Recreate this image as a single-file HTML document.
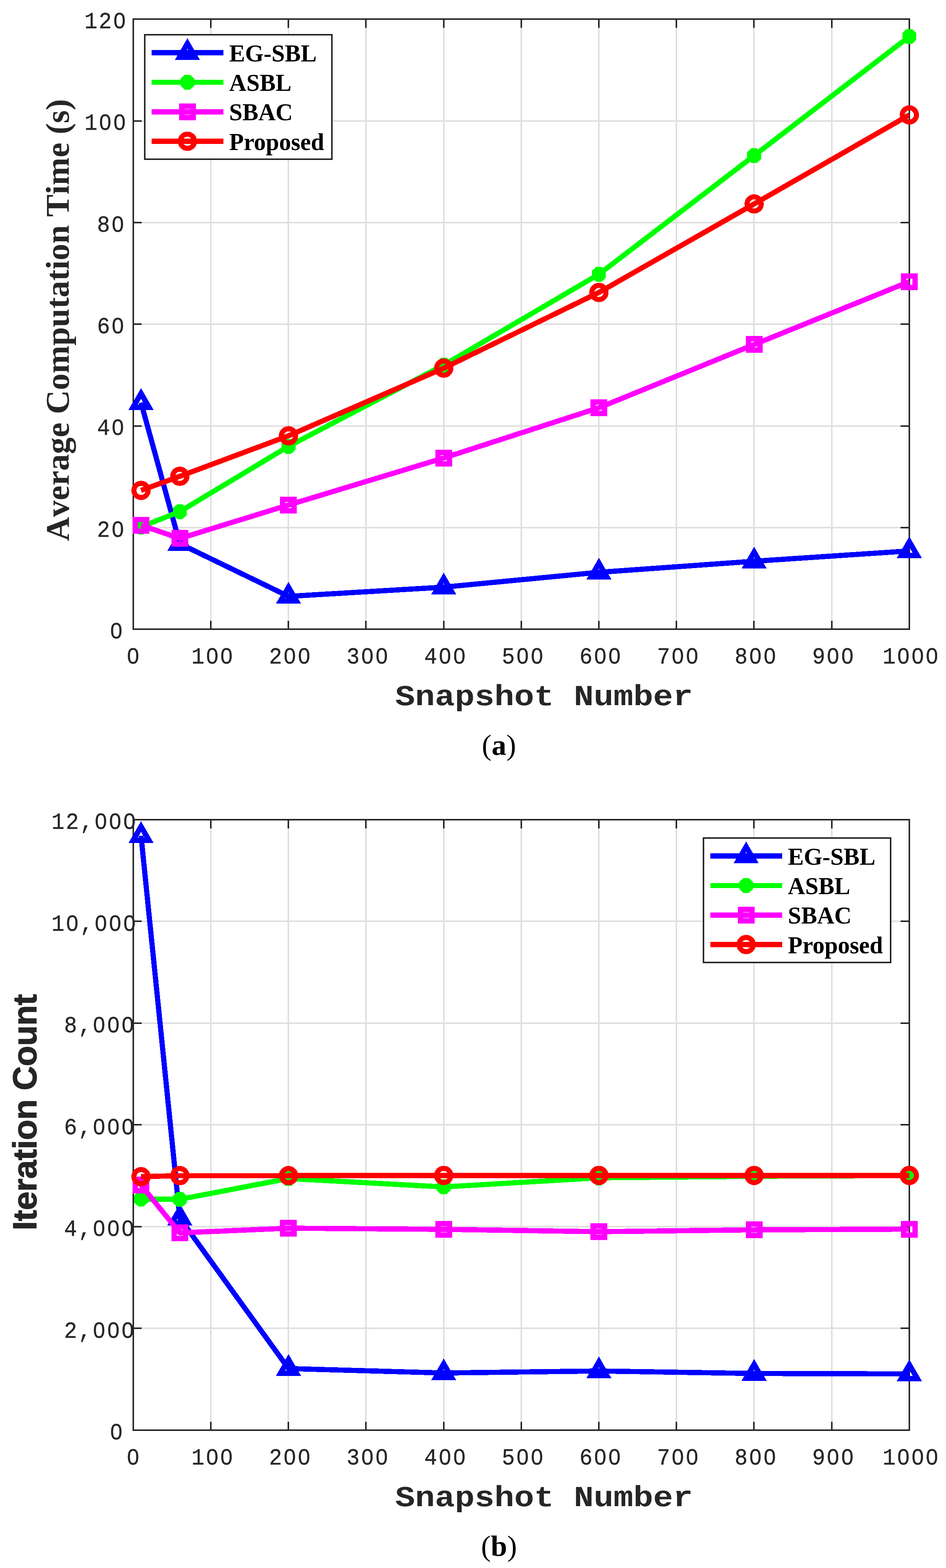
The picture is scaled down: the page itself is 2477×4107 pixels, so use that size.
<!DOCTYPE html>
<html lang="en">
<head>
<meta charset="utf-8">
<title>Average computation time and iteration count versus snapshot number</title>
<style>
html,body{margin:0;padding:0;background:#fff}
body{width:2477px;height:4107px;overflow:hidden}
svg{display:block}
.zc{fill:#fff;stroke:none}
.tk{font-family:"Liberation Mono",monospace;font-size:61px;letter-spacing:3.663px;fill:#262626;stroke:#262626;stroke-width:0.5px}
.xl{font-family:"Liberation Mono",monospace;font-weight:bold;font-size:86.6px;fill:#262626}
.yla{font-family:"Liberation Serif",serif;font-weight:bold;font-size:87.4px;fill:#262626;font-kerning:none}
.ylb{font-family:"Liberation Sans",sans-serif;font-weight:bold;font-size:88px;fill:#262626;stroke:#262626;stroke-width:1.6px;letter-spacing:-0.5px;font-kerning:none}
.lg{font-family:"Liberation Serif",serif;font-weight:bold;font-size:62.5px;fill:#000}
.cap{font-family:"Liberation Serif",serif;font-size:77px;fill:#000}
</style>
</head>
<body>
<svg width="2477" height="4107" viewBox="0 0 2477 4107">
<rect width="2477" height="4107" fill="#fff"/>
<g id="chart-a">
<g shape-rendering="crispEdges" fill="none" stroke-width="4">
<path d="M552 50V1648M755 50V1648M958 50V1648M1162 50V1648M1365 50V1648M1568 50V1648M1771 50V1648M1974 50V1648M2178 50V1648M349 1382H2381M349 1116H2381M349 849H2381M349 583H2381M349 317H2381" stroke="#dfdfdf"/>
<path d="M552 1648V1626M552 50V73M755 1648V1626M755 50V73M958 1648V1626M958 50V73M1162 1648V1626M1162 50V73M1365 1648V1626M1365 50V73M1568 1648V1626M1568 50V73M1771 1648V1626M1771 50V73M1974 1648V1626M1974 50V73M2178 1648V1626M2178 50V73M349 1382H371M2381 1382H2358M349 1116H371M2381 1116H2358M349 849H371M2381 849H2358M349 583H371M2381 583H2358M349 317H371M2381 317H2358" stroke="#262626"/>
<rect x="349" y="50" width="2032" height="1598" stroke="#262626"/>
</g>
<g class="tk">
<text transform="translate(331.5 1737.6) scale(0.93 1)">0</text><ellipse class="zc" cx="348.5" cy="1717.5" rx="6.4" ry="8"/>
<text transform="translate(501.2 1737.6) scale(0.93 1)">100</text><ellipse class="zc" cx="555.7" cy="1717.5" rx="6.4" ry="8"/><ellipse class="zc" cx="593.2" cy="1717.5" rx="6.4" ry="8"/>
<text transform="translate(704.4 1737.6) scale(0.93 1)">200</text><ellipse class="zc" cx="758.9" cy="1717.5" rx="6.4" ry="8"/><ellipse class="zc" cx="796.4" cy="1717.5" rx="6.4" ry="8"/>
<text transform="translate(907.6 1737.6) scale(0.93 1)">300</text><ellipse class="zc" cx="962.1" cy="1717.5" rx="6.4" ry="8"/><ellipse class="zc" cx="999.6" cy="1717.5" rx="6.4" ry="8"/>
<text transform="translate(1110.8 1737.6) scale(0.93 1)">400</text><ellipse class="zc" cx="1165.3" cy="1717.5" rx="6.4" ry="8"/><ellipse class="zc" cx="1202.8" cy="1717.5" rx="6.4" ry="8"/>
<text transform="translate(1314 1737.6) scale(0.93 1)">500</text><ellipse class="zc" cx="1368.5" cy="1717.5" rx="6.4" ry="8"/><ellipse class="zc" cx="1406" cy="1717.5" rx="6.4" ry="8"/>
<text transform="translate(1517.2 1737.6) scale(0.93 1)">600</text><ellipse class="zc" cx="1571.7" cy="1717.5" rx="6.4" ry="8"/><ellipse class="zc" cx="1609.2" cy="1717.5" rx="6.4" ry="8"/>
<text transform="translate(1720.4 1737.6) scale(0.93 1)">700</text><ellipse class="zc" cx="1774.9" cy="1717.5" rx="6.4" ry="8"/><ellipse class="zc" cx="1812.4" cy="1717.5" rx="6.4" ry="8"/>
<text transform="translate(1923.6 1737.6) scale(0.93 1)">800</text><ellipse class="zc" cx="1978.1" cy="1717.5" rx="6.4" ry="8"/><ellipse class="zc" cx="2015.5" cy="1717.5" rx="6.4" ry="8"/>
<text transform="translate(2126.8 1737.6) scale(0.93 1)">900</text><ellipse class="zc" cx="2181.3" cy="1717.5" rx="6.4" ry="8"/><ellipse class="zc" cx="2218.8" cy="1717.5" rx="6.4" ry="8"/>
<text transform="translate(2311 1737.6) scale(0.93 1)">1000</text><ellipse class="zc" cx="2365.5" cy="1717.5" rx="6.4" ry="8"/><ellipse class="zc" cx="2402.9" cy="1717.5" rx="6.4" ry="8"/><ellipse class="zc" cx="2440.4" cy="1717.5" rx="6.4" ry="8"/>
</g>
<g class="tk">
<text transform="translate(287.6 1672) scale(0.93 1)">0</text><ellipse class="zc" cx="304.6" cy="1651.9" rx="6.4" ry="8"/>
<text transform="translate(254.1 1405.7) scale(0.93 1)">20</text><ellipse class="zc" cx="308.6" cy="1385.6" rx="6.4" ry="8"/>
<text transform="translate(254.1 1139.3) scale(0.93 1)">40</text><ellipse class="zc" cx="308.6" cy="1119.2" rx="6.4" ry="8"/>
<text transform="translate(254.1 873) scale(0.93 1)">60</text><ellipse class="zc" cx="308.6" cy="852.9" rx="6.4" ry="8"/>
<text transform="translate(254.1 606.7) scale(0.93 1)">80</text><ellipse class="zc" cx="308.6" cy="586.6" rx="6.4" ry="8"/>
<text transform="translate(221 340.3) scale(0.93 1)">100</text><ellipse class="zc" cx="275.4" cy="320.2" rx="6.4" ry="8"/><ellipse class="zc" cx="312.9" cy="320.2" rx="6.4" ry="8"/>
<text transform="translate(221 74) scale(0.93 1)">120</text><ellipse class="zc" cx="312.9" cy="53.9" rx="6.4" ry="8"/>
</g>
<text class="xl" transform="translate(1424.5 1846.5) scale(1 0.87)" text-anchor="middle">Snapshot Number</text>
<text class="yla" transform="translate(179.9 838.4) rotate(-90)" text-anchor="middle">Average Computation Time (s)</text>
<clipPath id="clipa"><rect x="349" y="50" width="2032" height="1598"/></clipPath>
<g shape-rendering="crispEdges">
<polyline clip-path="url(#clipa)" points="369.3,1054.5 470.9,1424.2 755.4,1562 1161.8,1537.9 1568.2,1499 1974.6,1470 2381,1443" fill="none" stroke="#0000ff" stroke-width="13.6" stroke-linejoin="round"/>
<path d="M369.3 1030.5L390.1 1066.5L348.5 1066.5Z" fill="none" stroke="#0000ff" stroke-width="14" stroke-linejoin="miter"/>
<path d="M470.9 1400.2L491.7 1436.2L450.1 1436.2Z" fill="none" stroke="#0000ff" stroke-width="14" stroke-linejoin="miter"/>
<path d="M755.4 1538L776.2 1574L734.6 1574Z" fill="none" stroke="#0000ff" stroke-width="14" stroke-linejoin="miter"/>
<path d="M1161.8 1513.9L1182.6 1549.9L1141 1549.9Z" fill="none" stroke="#0000ff" stroke-width="14" stroke-linejoin="miter"/>
<path d="M1568.2 1475L1589 1511L1547.4 1511Z" fill="none" stroke="#0000ff" stroke-width="14" stroke-linejoin="miter"/>
<path d="M1974.6 1446L1995.4 1482L1953.8 1482Z" fill="none" stroke="#0000ff" stroke-width="14" stroke-linejoin="miter"/>
<path d="M2381 1419L2401.8 1455L2360.2 1455Z" fill="none" stroke="#0000ff" stroke-width="14" stroke-linejoin="miter"/>
<polyline clip-path="url(#clipa)" points="369.3,1380 470.9,1340 755.4,1169 1161.8,956.2 1568.2,718.3 1974.6,407.6 2381,95.6" fill="none" stroke="#00ff00" stroke-width="13.6" stroke-linejoin="round"/>
<polygon points="362.3,1360.5 376.3,1360.5 387.5,1370.8 387.5,1389.2 376.3,1399.5 362.3,1399.5 351.1,1389.2 351.1,1370.8" fill="#00ff00"/>
<polygon points="463.9,1320.5 477.9,1320.5 489.1,1330.8 489.1,1349.2 477.9,1359.5 463.9,1359.5 452.7,1349.2 452.7,1330.8" fill="#00ff00"/>
<polygon points="748.4,1149.5 762.4,1149.5 773.6,1159.8 773.6,1178.2 762.4,1188.5 748.4,1188.5 737.2,1178.2 737.2,1159.8" fill="#00ff00"/>
<polygon points="1154.8,936.7 1168.8,936.7 1180,947 1180,965.4 1168.8,975.7 1154.8,975.7 1143.6,965.4 1143.6,947" fill="#00ff00"/>
<polygon points="1561.2,698.8 1575.2,698.8 1586.4,709.1 1586.4,727.5 1575.2,737.8 1561.2,737.8 1550,727.5 1550,709.1" fill="#00ff00"/>
<polygon points="1967.6,388.1 1981.6,388.1 1992.8,398.4 1992.8,416.8 1981.6,427.1 1967.6,427.1 1956.4,416.8 1956.4,398.4" fill="#00ff00"/>
<polygon points="2374,76.1 2388,76.1 2399.2,86.4 2399.2,104.8 2388,115.1 2374,115.1 2362.8,104.8 2362.8,86.4" fill="#00ff00"/>
<polyline clip-path="url(#clipa)" points="369.3,1375.5 470.9,1410.4 755.4,1322.7 1161.8,1199.6 1568.2,1068 1974.6,902.4 2381,737.7" fill="none" stroke="#ff00ff" stroke-width="13.6" stroke-linejoin="round"/>
<rect x="354.3" y="1360.5" width="30" height="30" fill="none" stroke="#ff00ff" stroke-width="14"/>
<rect x="455.9" y="1395.4" width="30" height="30" fill="none" stroke="#ff00ff" stroke-width="14"/>
<rect x="740.4" y="1307.7" width="30" height="30" fill="none" stroke="#ff00ff" stroke-width="14"/>
<rect x="1146.8" y="1184.6" width="30" height="30" fill="none" stroke="#ff00ff" stroke-width="14"/>
<rect x="1553.2" y="1053" width="30" height="30" fill="none" stroke="#ff00ff" stroke-width="14"/>
<rect x="1959.6" y="887.4" width="30" height="30" fill="none" stroke="#ff00ff" stroke-width="14"/>
<rect x="2366" y="722.7" width="30" height="30" fill="none" stroke="#ff00ff" stroke-width="14"/>
<polyline clip-path="url(#clipa)" points="369.3,1284.5 470.9,1247.5 755.4,1141.5 1161.8,964.3 1568.2,766 1974.6,534.2 2381,301" fill="none" stroke="#ff0000" stroke-width="13.6" stroke-linejoin="round"/>
<circle cx="369.3" cy="1284.5" r="18.6" fill="none" stroke="#ff0000" stroke-width="13.3"/>
<circle cx="470.9" cy="1247.5" r="18.6" fill="none" stroke="#ff0000" stroke-width="13.3"/>
<circle cx="755.4" cy="1141.5" r="18.6" fill="none" stroke="#ff0000" stroke-width="13.3"/>
<circle cx="1161.8" cy="964.3" r="18.6" fill="none" stroke="#ff0000" stroke-width="13.3"/>
<circle cx="1568.2" cy="766" r="18.6" fill="none" stroke="#ff0000" stroke-width="13.3"/>
<circle cx="1974.6" cy="534.2" r="18.6" fill="none" stroke="#ff0000" stroke-width="13.3"/>
<circle cx="2381" cy="301" r="18.6" fill="none" stroke="#ff0000" stroke-width="13.3"/>
</g>
<g transform="translate(379 91)">
<rect x="0" y="0" width="490" height="326" fill="#fff" stroke="#262626" stroke-width="4" shape-rendering="crispEdges"/>
<g shape-rendering="crispEdges"><path d="M17.7 47H206" stroke="#0000ff" stroke-width="13.6" fill="none"/><path d="M111.7 23L132.5 59L90.9 59Z" fill="none" stroke="#0000ff" stroke-width="14" stroke-linejoin="miter"/></g>
<text class="lg" x="221" y="69.5">EG-SBL</text>
<g shape-rendering="crispEdges"><path d="M17.7 124.3H206" stroke="#00ff00" stroke-width="13.6" fill="none"/><polygon points="104.7,104.8 118.7,104.8 129.9,115.1 129.9,133.5 118.7,143.8 104.7,143.8 93.5,133.5 93.5,115.1" fill="#00ff00"/></g>
<text class="lg" x="221" y="146.8">ASBL</text>
<g shape-rendering="crispEdges"><path d="M17.7 201.7H206" stroke="#ff00ff" stroke-width="13.6" fill="none"/><rect x="96.7" y="186.7" width="30" height="30" fill="none" stroke="#ff00ff" stroke-width="14"/></g>
<text class="lg" x="221" y="224.2">SBAC</text>
<g shape-rendering="crispEdges"><path d="M17.7 279H206" stroke="#ff0000" stroke-width="13.6" fill="none"/><circle cx="111.7" cy="279" r="18.6" fill="none" stroke="#ff0000" stroke-width="13.3"/></g>
<text class="lg" x="221" y="301.5">Proposed</text>
</g>
<text class="cap" x="1306.5" y="1977" text-anchor="middle">(<tspan font-weight="bold">a</tspan>)</text>
</g>
<g id="chart-b">
<g shape-rendering="crispEdges" fill="none" stroke-width="4">
<path d="M552 2147V3746M755 2147V3746M958 2147V3746M1162 2147V3746M1365 2147V3746M1568 2147V3746M1771 2147V3746M1974 2147V3746M2178 2147V3746M349 3479H2381M349 3213H2381M349 2946H2381M349 2680H2381M349 2413H2381" stroke="#dfdfdf"/>
<path d="M552 3746V3724M552 2147V2170M755 3746V3724M755 2147V2170M958 3746V3724M958 2147V2170M1162 3746V3724M1162 2147V2170M1365 3746V3724M1365 2147V2170M1568 3746V3724M1568 2147V2170M1771 3746V3724M1771 2147V2170M1974 3746V3724M1974 2147V2170M2178 3746V3724M2178 2147V2170M349 3479H371M2381 3479H2358M349 3213H371M2381 3213H2358M349 2946H371M2381 2946H2358M349 2680H371M2381 2680H2358M349 2413H371M2381 2413H2358" stroke="#262626"/>
<rect x="349" y="2147" width="2032" height="1599" stroke="#262626"/>
</g>
<g class="tk">
<text transform="translate(331.5 3835.6) scale(0.93 1)">0</text><ellipse class="zc" cx="348.5" cy="3815.5" rx="6.4" ry="8"/>
<text transform="translate(501.2 3835.6) scale(0.93 1)">100</text><ellipse class="zc" cx="555.7" cy="3815.5" rx="6.4" ry="8"/><ellipse class="zc" cx="593.2" cy="3815.5" rx="6.4" ry="8"/>
<text transform="translate(704.4 3835.6) scale(0.93 1)">200</text><ellipse class="zc" cx="758.9" cy="3815.5" rx="6.4" ry="8"/><ellipse class="zc" cx="796.4" cy="3815.5" rx="6.4" ry="8"/>
<text transform="translate(907.6 3835.6) scale(0.93 1)">300</text><ellipse class="zc" cx="962.1" cy="3815.5" rx="6.4" ry="8"/><ellipse class="zc" cx="999.6" cy="3815.5" rx="6.4" ry="8"/>
<text transform="translate(1110.8 3835.6) scale(0.93 1)">400</text><ellipse class="zc" cx="1165.3" cy="3815.5" rx="6.4" ry="8"/><ellipse class="zc" cx="1202.8" cy="3815.5" rx="6.4" ry="8"/>
<text transform="translate(1314 3835.6) scale(0.93 1)">500</text><ellipse class="zc" cx="1368.5" cy="3815.5" rx="6.4" ry="8"/><ellipse class="zc" cx="1406" cy="3815.5" rx="6.4" ry="8"/>
<text transform="translate(1517.2 3835.6) scale(0.93 1)">600</text><ellipse class="zc" cx="1571.7" cy="3815.5" rx="6.4" ry="8"/><ellipse class="zc" cx="1609.2" cy="3815.5" rx="6.4" ry="8"/>
<text transform="translate(1720.4 3835.6) scale(0.93 1)">700</text><ellipse class="zc" cx="1774.9" cy="3815.5" rx="6.4" ry="8"/><ellipse class="zc" cx="1812.4" cy="3815.5" rx="6.4" ry="8"/>
<text transform="translate(1923.6 3835.6) scale(0.93 1)">800</text><ellipse class="zc" cx="1978.1" cy="3815.5" rx="6.4" ry="8"/><ellipse class="zc" cx="2015.5" cy="3815.5" rx="6.4" ry="8"/>
<text transform="translate(2126.8 3835.6) scale(0.93 1)">900</text><ellipse class="zc" cx="2181.3" cy="3815.5" rx="6.4" ry="8"/><ellipse class="zc" cx="2218.8" cy="3815.5" rx="6.4" ry="8"/>
<text transform="translate(2311 3835.6) scale(0.93 1)">1000</text><ellipse class="zc" cx="2365.5" cy="3815.5" rx="6.4" ry="8"/><ellipse class="zc" cx="2402.9" cy="3815.5" rx="6.4" ry="8"/><ellipse class="zc" cx="2440.4" cy="3815.5" rx="6.4" ry="8"/>
</g>
<g class="tk">
<text transform="translate(287.6 3770) scale(0.93 1)">0</text><ellipse class="zc" cx="304.6" cy="3749.9" rx="6.4" ry="8"/>
<text transform="translate(167.7 3503.5) scale(0.93 1)">2,000</text><ellipse class="zc" cx="259.6" cy="3483.4" rx="6.4" ry="8"/><ellipse class="zc" cx="297" cy="3483.4" rx="6.4" ry="8"/><ellipse class="zc" cx="334.5" cy="3483.4" rx="6.4" ry="8"/>
<text transform="translate(167.7 3237) scale(0.93 1)">4,000</text><ellipse class="zc" cx="259.6" cy="3216.9" rx="6.4" ry="8"/><ellipse class="zc" cx="297" cy="3216.9" rx="6.4" ry="8"/><ellipse class="zc" cx="334.5" cy="3216.9" rx="6.4" ry="8"/>
<text transform="translate(167.7 2970.5) scale(0.93 1)">6,000</text><ellipse class="zc" cx="259.6" cy="2950.4" rx="6.4" ry="8"/><ellipse class="zc" cx="297" cy="2950.4" rx="6.4" ry="8"/><ellipse class="zc" cx="334.5" cy="2950.4" rx="6.4" ry="8"/>
<text transform="translate(167.7 2704) scale(0.93 1)">8,000</text><ellipse class="zc" cx="259.6" cy="2683.9" rx="6.4" ry="8"/><ellipse class="zc" cx="297" cy="2683.9" rx="6.4" ry="8"/><ellipse class="zc" cx="334.5" cy="2683.9" rx="6.4" ry="8"/>
<text transform="translate(134.8 2437.5) scale(0.93 1)">10,000</text><ellipse class="zc" cx="189.3" cy="2417.4" rx="6.4" ry="8"/><ellipse class="zc" cx="264.2" cy="2417.4" rx="6.4" ry="8"/><ellipse class="zc" cx="301.6" cy="2417.4" rx="6.4" ry="8"/><ellipse class="zc" cx="339.1" cy="2417.4" rx="6.4" ry="8"/>
<text transform="translate(134.8 2171) scale(0.93 1)">12,000</text><ellipse class="zc" cx="264.2" cy="2150.9" rx="6.4" ry="8"/><ellipse class="zc" cx="301.6" cy="2150.9" rx="6.4" ry="8"/><ellipse class="zc" cx="339.1" cy="2150.9" rx="6.4" ry="8"/>
</g>
<text class="xl" transform="translate(1424.5 3944.5) scale(1 0.87)" text-anchor="middle">Snapshot Number</text>
<text class="ylb" transform="translate(94.9 2913.4) rotate(-90)" text-anchor="middle">Iteration Count</text>
<clipPath id="clipb"><rect x="349" y="2147" width="2032" height="1599"/></clipPath>
<g shape-rendering="crispEdges">
<polyline clip-path="url(#clipb)" points="369.3,2189 470.9,3190.8 755.4,3584.6 1161.8,3596.2 1568.2,3591 1974.6,3597.5 2381,3598.6" fill="none" stroke="#0000ff" stroke-width="13.6" stroke-linejoin="round"/>
<path d="M369.3 2165L390.1 2201L348.5 2201Z" fill="none" stroke="#0000ff" stroke-width="14" stroke-linejoin="miter"/>
<path d="M470.9 3166.8L491.7 3202.8L450.1 3202.8Z" fill="none" stroke="#0000ff" stroke-width="14" stroke-linejoin="miter"/>
<path d="M755.4 3560.6L776.2 3596.6L734.6 3596.6Z" fill="none" stroke="#0000ff" stroke-width="14" stroke-linejoin="miter"/>
<path d="M1161.8 3572.2L1182.6 3608.2L1141 3608.2Z" fill="none" stroke="#0000ff" stroke-width="14" stroke-linejoin="miter"/>
<path d="M1568.2 3567L1589 3603L1547.4 3603Z" fill="none" stroke="#0000ff" stroke-width="14" stroke-linejoin="miter"/>
<path d="M1974.6 3573.5L1995.4 3609.5L1953.8 3609.5Z" fill="none" stroke="#0000ff" stroke-width="14" stroke-linejoin="miter"/>
<path d="M2381 3574.6L2401.8 3610.6L2360.2 3610.6Z" fill="none" stroke="#0000ff" stroke-width="14" stroke-linejoin="miter"/>
<polyline clip-path="url(#clipb)" points="369.3,3140.6 470.9,3141.3 755.4,3086.9 1161.8,3108.9 1568.2,3085 1974.6,3081 2381,3079" fill="none" stroke="#00ff00" stroke-width="13.6" stroke-linejoin="round"/>
<polygon points="362.3,3121.1 376.3,3121.1 387.5,3131.4 387.5,3149.8 376.3,3160.1 362.3,3160.1 351.1,3149.8 351.1,3131.4" fill="#00ff00"/>
<polygon points="463.9,3121.8 477.9,3121.8 489.1,3132.1 489.1,3150.5 477.9,3160.8 463.9,3160.8 452.7,3150.5 452.7,3132.1" fill="#00ff00"/>
<polygon points="748.4,3067.4 762.4,3067.4 773.6,3077.7 773.6,3096.1 762.4,3106.4 748.4,3106.4 737.2,3096.1 737.2,3077.7" fill="#00ff00"/>
<polygon points="1154.8,3089.4 1168.8,3089.4 1180,3099.7 1180,3118.1 1168.8,3128.4 1154.8,3128.4 1143.6,3118.1 1143.6,3099.7" fill="#00ff00"/>
<polygon points="1561.2,3065.5 1575.2,3065.5 1586.4,3075.8 1586.4,3094.2 1575.2,3104.5 1561.2,3104.5 1550,3094.2 1550,3075.8" fill="#00ff00"/>
<polygon points="1967.6,3061.5 1981.6,3061.5 1992.8,3071.8 1992.8,3090.2 1981.6,3100.5 1967.6,3100.5 1956.4,3090.2 1956.4,3071.8" fill="#00ff00"/>
<polygon points="2374,3059.5 2388,3059.5 2399.2,3069.8 2399.2,3088.2 2388,3098.5 2374,3098.5 2362.8,3088.2 2362.8,3069.8" fill="#00ff00"/>
<polyline clip-path="url(#clipb)" points="369.3,3104 470.9,3229.2 755.4,3217 1161.8,3220 1568.2,3226.1 1974.6,3221.3 2381,3219.5" fill="none" stroke="#ff00ff" stroke-width="13.6" stroke-linejoin="round"/>
<rect x="354.3" y="3089" width="30" height="30" fill="none" stroke="#ff00ff" stroke-width="14"/>
<rect x="455.9" y="3214.2" width="30" height="30" fill="none" stroke="#ff00ff" stroke-width="14"/>
<rect x="740.4" y="3202" width="30" height="30" fill="none" stroke="#ff00ff" stroke-width="14"/>
<rect x="1146.8" y="3205" width="30" height="30" fill="none" stroke="#ff00ff" stroke-width="14"/>
<rect x="1553.2" y="3211.1" width="30" height="30" fill="none" stroke="#ff00ff" stroke-width="14"/>
<rect x="1959.6" y="3206.3" width="30" height="30" fill="none" stroke="#ff00ff" stroke-width="14"/>
<rect x="2366" y="3204.5" width="30" height="30" fill="none" stroke="#ff00ff" stroke-width="14"/>
<polyline clip-path="url(#clipb)" points="369.3,3082 470.9,3079.3 755.4,3079.3 1161.8,3078.8 1568.2,3078.8 1974.6,3078.8 2381,3078.8" fill="none" stroke="#ff0000" stroke-width="13.6" stroke-linejoin="round"/>
<circle cx="369.3" cy="3082" r="18.6" fill="none" stroke="#ff0000" stroke-width="13.3"/>
<circle cx="470.9" cy="3079.3" r="18.6" fill="none" stroke="#ff0000" stroke-width="13.3"/>
<circle cx="755.4" cy="3079.3" r="18.6" fill="none" stroke="#ff0000" stroke-width="13.3"/>
<circle cx="1161.8" cy="3078.8" r="18.6" fill="none" stroke="#ff0000" stroke-width="13.3"/>
<circle cx="1568.2" cy="3078.8" r="18.6" fill="none" stroke="#ff0000" stroke-width="13.3"/>
<circle cx="1974.6" cy="3078.8" r="18.6" fill="none" stroke="#ff0000" stroke-width="13.3"/>
<circle cx="2381" cy="3078.8" r="18.6" fill="none" stroke="#ff0000" stroke-width="13.3"/>
</g>
<g transform="translate(1842 2195)">
<rect x="0" y="0" width="490" height="326" fill="#fff" stroke="#262626" stroke-width="4" shape-rendering="crispEdges"/>
<g shape-rendering="crispEdges"><path d="M17.7 47H206" stroke="#0000ff" stroke-width="13.6" fill="none"/><path d="M111.7 23L132.5 59L90.9 59Z" fill="none" stroke="#0000ff" stroke-width="14" stroke-linejoin="miter"/></g>
<text class="lg" x="221" y="69.5">EG-SBL</text>
<g shape-rendering="crispEdges"><path d="M17.7 124.3H206" stroke="#00ff00" stroke-width="13.6" fill="none"/><polygon points="104.7,104.8 118.7,104.8 129.9,115.1 129.9,133.5 118.7,143.8 104.7,143.8 93.5,133.5 93.5,115.1" fill="#00ff00"/></g>
<text class="lg" x="221" y="146.8">ASBL</text>
<g shape-rendering="crispEdges"><path d="M17.7 201.7H206" stroke="#ff00ff" stroke-width="13.6" fill="none"/><rect x="96.7" y="186.7" width="30" height="30" fill="none" stroke="#ff00ff" stroke-width="14"/></g>
<text class="lg" x="221" y="224.2">SBAC</text>
<g shape-rendering="crispEdges"><path d="M17.7 279H206" stroke="#ff0000" stroke-width="13.6" fill="none"/><circle cx="111.7" cy="279" r="18.6" fill="none" stroke="#ff0000" stroke-width="13.3"/></g>
<text class="lg" x="221" y="301.5">Proposed</text>
</g>
<text class="cap" x="1306.5" y="4075" text-anchor="middle">(<tspan font-weight="bold">b</tspan>)</text>
</g>
</svg>
</body>
</html>
